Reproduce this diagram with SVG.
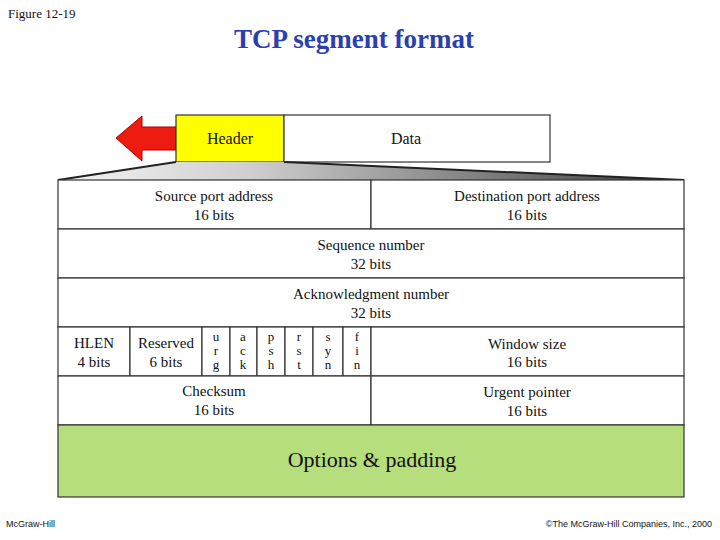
<svg xmlns="http://www.w3.org/2000/svg" width="720" height="540" viewBox="0 0 720 540">
<defs>
<linearGradient id="g" x1="0" x2="1" y1="0" y2="0"><stop offset="0" stop-color="#f4f4f4"/><stop offset="0.3" stop-color="#d0d0d0"/><stop offset="1" stop-color="#3a3a3a"/></linearGradient>
</defs>
<style>
text{font-family:"Liberation Serif","Times New Roman",serif;fill:#111;text-anchor:middle}
.c{fill:#fff;stroke:#333;stroke-width:1.2}
.t{font-size:15px}
.f{font-size:13px}
.s{font-size:9px;font-family:"Liberation Sans",Arial,sans-serif}
</style>
<rect width="720" height="540" fill="#fff"/>
<text x="8" y="18" style="font-size:13px;text-anchor:start">Figure  12-19</text>
<text x="354" y="48" style="font-size:27px;font-weight:bold;fill:#2b3fb3">TCP segment format</text>
<text class="s" x="6" y="527" style="text-anchor:start">McGraw-Hill</text>
<text class="s" x="712" y="527" style="text-anchor:end">©The McGraw-Hill Companies, Inc., 2000</text>
<g id="arrow"><polygon points="116,138 142,116 142,127 176,127 176,150 142,150 142,161" fill="#ee1c10" stroke="#a00" stroke-width="1"/></g>
<g id="header"><rect x="176" y="115" width="108" height="47" fill="#ffff00" stroke="#333" stroke-width="1.2"/><text x="230" y="144" style="font-size:16px">Header</text></g>
<g id="data"><rect x="284" y="115" width="266" height="47" class="c"/><text x="406" y="144" style="font-size:16px">Data</text></g>
<g id="connectors"><polygon points="176,162 284,162 684,180 58,180" fill="url(#g)"/><path d="M58,180 L176,162 M284,162 L684,180" stroke="#222" stroke-width="2" fill="none"/></g>
<g id="table" class="t">
<rect class="c" x="58" y="180" width="313" height="49"/><text x="214" y="201">Source port address</text><text x="214" y="220">16 bits</text>
<rect class="c" x="371" y="180" width="313" height="49"/><text x="527" y="201">Destination port address</text><text x="527" y="220">16 bits</text>
<rect class="c" x="58" y="229" width="626" height="49"/><text x="371" y="250">Sequence number</text><text x="371" y="269">32 bits</text>
<rect class="c" x="58" y="278" width="626" height="49"/><text x="371" y="299">Acknowledgment number</text><text x="371" y="318">32 bits</text>
<rect class="c" x="58" y="327" width="72" height="49"/><text x="94" y="348">HLEN</text><text x="94" y="367">4 bits</text>
<rect class="c" x="130" y="327" width="72" height="49"/><text x="166" y="348">Reserved</text><text x="166" y="367">6 bits</text>
<g class="f">
<rect class="c" x="202" y="327" width="28" height="49"/><text x="216" y="341">u</text><text x="216" y="355">r</text><text x="216" y="369">g</text>
<rect class="c" x="230" y="327" width="27" height="49"/><text x="243" y="341">a</text><text x="243" y="355">c</text><text x="243" y="369">k</text>
<rect class="c" x="257" y="327" width="28" height="49"/><text x="271" y="341">p</text><text x="271" y="355">s</text><text x="271" y="369">h</text>
<rect class="c" x="285" y="327" width="28" height="49"/><text x="299" y="341">r</text><text x="299" y="355">s</text><text x="299" y="369">t</text>
<rect class="c" x="313" y="327" width="30" height="49"/><text x="328" y="341">s</text><text x="328" y="355">y</text><text x="328" y="369">n</text>
<rect class="c" x="343" y="327" width="28" height="49"/><text x="357" y="341">f</text><text x="357" y="355">i</text><text x="357" y="369">n</text>
</g>
<rect class="c" x="371" y="327" width="313" height="49"/><text x="527" y="349">Window size</text><text x="527" y="367">16 bits</text>
<rect class="c" x="58" y="376" width="313" height="49"/><text x="214" y="396">Checksum</text><text x="214" y="415">16 bits</text>
<rect class="c" x="371" y="376" width="313" height="49"/><text x="527" y="397">Urgent pointer</text><text x="527" y="416">16 bits</text>
<rect x="58" y="425" width="626" height="72" fill="#b6de7c" stroke="#333" stroke-width="1.2"/><text x="372" y="467" style="font-size:22px">Options &amp; padding</text>
</g>
</svg>
